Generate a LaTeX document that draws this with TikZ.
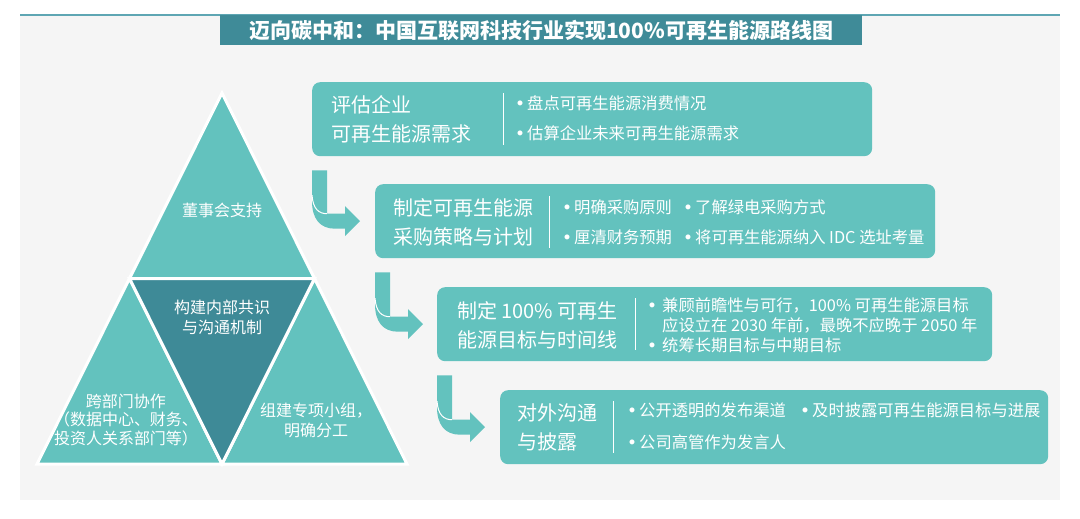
\documentclass[tikz,border=0pt]{standalone}
\usepackage{fontspec}
\setmainfont{Noto Sans CJK SC}
\usetikzlibrary{calc}

\definecolor{tealLight}{HTML}{63C2BE}
\definecolor{tealDark}{HTML}{3E8A97}
\definecolor{tealBar}{HTML}{3F8B98}
\definecolor{tealRule}{HTML}{5EA6B3}
\definecolor{panelGray}{HTML}{F5F5F5}

\newcommand{\bul}[1][14pt]{\makebox[#1][c]{\raisebox{3.6pt}{\fontsize{5.5}{5.5}\selectfont ●}}}
\newcommand{\turnArrow}[2]{%
	\fill[arrowStyle] let \p1 = (#1.south west), \p2 = (#2.west) in
		(\x1,\y1-14pt) -- (\x1+15pt,\y1-14pt) -- (\x1+15pt,\y2+7.5pt) -- (\x1+33pt,\y2+7.5pt)
		-- (\x1+33pt,\y2+15pt) -- (\x1+48pt,\y2) -- (\x1+33pt,\y2-15pt) -- (\x1+33pt,\y2-7.5pt)
		-- (\x1+23pt,\y2-7.5pt) .. controls (\x1+8pt,\y2-7.5pt) and (\x1,\y2+2.5pt) .. (\x1,\y2+20pt) -- cycle;
	\draw[seamStyle] let \p1 = (#1.south west), \p2 = (#2.west) in
		(\x1,\y2+26pt) .. controls (\x1+1pt,\y2+12pt) and (\x1+7pt,\y2+7.5pt) .. (\x1+15pt,\y2+7.5pt);}

\begin{document}
\begin{tikzpicture}[x = 1pt, y = -1pt]
	\tikzstyle{boxStyle} = [fill = tealLight, rounded corners = 8pt, inner sep = 0pt]
	\tikzstyle{headStyle} = [text = white, align = left, anchor = west, inner sep = 0pt, font = \fontsize{20}{29}\selectfont]
	\tikzstyle{bulletStyle} = [text = white, align = left, anchor = west, inner sep = 0pt, font = \fontsize{16.3}{30}\selectfont]
	\tikzstyle{triLight} = [fill = tealLight, draw = white, line width = 3pt]
	\tikzstyle{triDark} = [fill = tealDark, draw = white, line width = 3pt]
	\tikzstyle{triLabel} = [text = white, align = center, inner sep = 0pt, font = \fontsize{16}{19}\selectfont]
	\tikzstyle{dividerStyle} = [white, line width = 0.8pt]
	\tikzstyle{arrowStyle} = [fill = tealLight]
	\tikzstyle{seamStyle} = [white, line width = 1pt]
	\useasboundingbox (0,0) rectangle (1080,519);
	\fill[panelGray] (20,15) rectangle (1060,500);
	\draw[tealRule, line width = 2.5pt] (20,15) -- (1060,15);
	\node[fill = tealBar, minimum width = 642, minimum height = 30, anchor = north west, inner sep = 0pt,
		text = white, font = \bfseries\fontsize{21}{21}\selectfont] (title) at (220,15)
		{迈向碳中和：中国互联网科技行业实现100\%可再生能源路线图};

	% pyramid
	\coordinate (apex) at (222,93);
	\coordinate (baseL) at (37,464);
	\coordinate (baseR) at (407,464);
	\coordinate (midL) at ($(apex)!0.5!(baseL)$);
	\coordinate (midR) at ($(apex)!0.5!(baseR)$);
	\coordinate (midB) at ($(baseL)!0.5!(baseR)$);
	\filldraw[triLight] (apex) -- (midL) -- (midR) -- cycle;
	\filldraw[triLight] (midL) -- (baseL) -- (midB) -- cycle;
	\filldraw[triLight] (midR) -- (midB) -- (baseR) -- cycle;
	\filldraw[triDark] (midL) -- (midR) -- (midB) -- cycle;
	\node[triLabel] (top) at (222,210) {董事会支持};
	\node[triLabel, font = \fontsize{16}{20}\selectfont] (core) at (222,317) {构建内部共识\\与沟通机制};
	\node[triLabel, font = \fontsize{16}{18.5}\selectfont] (left) at (126,420) {跨部门协作\\（数据中心、财务、\\投资人关系部门等）};
	\node[triLabel, font = \fontsize{16}{20}\selectfont] (right) at (316,420) {组建专项小组，\\明确分工};

	% steps
	\node[boxStyle, minimum width = 560, minimum height = 74, anchor = north west] (b1) at (312,82) {};
	\node[boxStyle, minimum width = 560, minimum height = 74, anchor = north west] (b2) at (375,184) {};
	\node[boxStyle, minimum width = 555, minimum height = 74, anchor = north west] (b3) at (437,287) {};
	\node[boxStyle, minimum width = 548, minimum height = 74, anchor = north west] (b4) at (500,390) {};
	\turnArrow{b1}{b2}
	\turnArrow{b2}{b3}
	\turnArrow{b3}{b4}

	\node[headStyle] (h1) at (331,119) {评估企业\\可再生能源需求};
	\draw[dividerStyle] (503,93) -- (503,145);
	\node[bulletStyle] (p1) at (513,118) {\bul 盘点可再生能源消费情况\\\bul 估算企业未来可再生能源需求};

	\node[headStyle] (h2) at (393,222) {制定可再生能源\\采购策略与计划};
	\draw[dividerStyle] (549,196) -- (549,248);
	\node[bulletStyle] (p2a) at (560,222) {\bul 明确采购原则\\\bul 厘清财务预期};
	\node[bulletStyle] (p2b) at (681,222) {\bul 了解绿电采购方式\\\bul 将可再生能源纳入 IDC 选址考量};

	\node[headStyle] (h3) at (457,325) {制定 100\% 可再生\\能源目标与时间线};
	\draw[dividerStyle] (635,298) -- (635,350);
	\node[bulletStyle, font = \fontsize{16.3}{20}\selectfont] (p3) at (642,325)
		{\bul[20pt]兼顾前瞻性与可行，100\% 可再生能源目标\\\hspace*{20pt}应设立在 2030 年前，最晚不应晚于 2050 年\\\bul[20pt]统筹长期目标与中期目标};

	\node[headStyle] (h4) at (517,427) {对外沟通\\与披露};
	\draw[dividerStyle] (613,401) -- (613,453);
	\node[bulletStyle, font = \fontsize{16.3}{32}\selectfont] (p4a) at (625,426) {\bul 公开透明的发布渠道\\\bul 公司高管作为发言人};
	\node[bulletStyle] (p4b) at (798,410) {\bul 及时披露可再生能源目标与进展};
\end{tikzpicture}
\end{document}
